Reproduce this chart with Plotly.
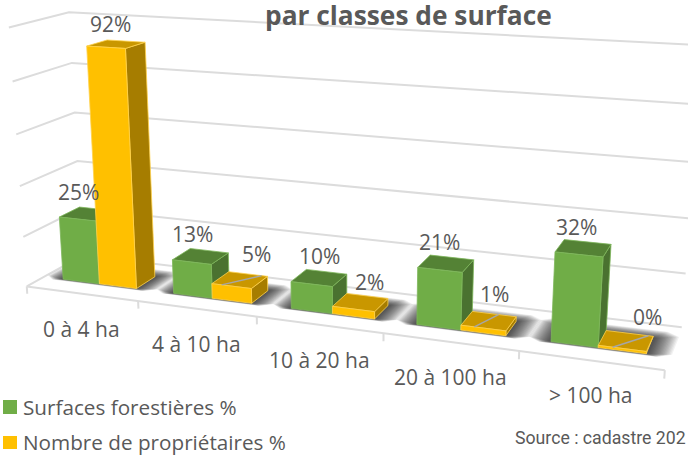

import numpy as np
import plotly.graph_objects as go

categories = ["0 à 4 ha", "4 à 10 ha", "10 à 20 ha", "20 à 100 ha", "> 100 ha"]
surfaces = [25, 13, 10, 21, 32]
proprietaires = [92, 5, 2, 1, 0]
grid_values = [0, 20, 40, 60, 80, 100]
series_names = ["Surfaces forestières %", "Nombre de propriétaires %"]

W, H = 688, 455
TEXT = "#595959"
GRID = "#dcdcdc"

# The chart is an oblique 3D view: this calibrates the view from the frame corners and ticks
VIEW = [(0,0,0,27,285),(1,0,0,138,301),(2,0,0,257,318),(3,0,0,384,335),(4,0,0,519,353),(5,0,0,664,368),
        (0,1,0,83,254),(5,1,0,682,327),(0,0,100,9,27),(0,0,80,13,81),(0,0,60,16,134),(0,0,40,20,186),(0,0,20,23,237),
        (0,1,100,69,13),(0,1,80,72,63),(0,1,60,74,113),(0,1,40,77,162),(5,1,20,686,273),(5,1,100,702,45)]
A = []
for X, Y, Z, u, v in VIEW:
    A.append([X, Y, Z, 1, 0, 0, 0, 0, -u*X, -u*Y, -u*Z, -u])
    A.append([0, 0, 0, 0, X, Y, Z, 1, -v*X, -v*Y, -v*Z, -v])
CAM = np.linalg.svd(np.array(A, float))[2][-1].reshape(3, 4)

def view(points):
    xs, ys = [], []
    for p in points:
        h = CAM @ np.array([p[0], p[1], p[2], 1.0])
        xs.append(h[0]/h[2]); ys.append(h[1]/h[2])
    return xs, ys

fig = go.Figure()

def line(points, color=GRID, width=2):
    x, y = view(points)
    fig.add_trace(go.Scatter(x=x, y=y, mode="lines", line=dict(color=color, width=width), hoverinfo="skip", showlegend=False))

def face(points, color, edge=None):
    x, y = view(points + points[:1])
    fig.add_trace(go.Scatter(x=x, y=y, mode="lines", fill="toself", fillcolor=color,
                             line=dict(color=edge or color, width=0.8 if edge else 0), hoverinfo="skip", showlegend=False))

for g in grid_values:
    line([(0, 0, g), (0, 1, g), (5, 1, g)])
line([(0, 0, 0), (5, 0, 0)])
for n in range(len(categories) + 1):
    line([(n, 0, 0), (n, 0, -3)])

GAP, BW, Y0, Y1 = 0.165, 0.335, 0.32, 0.68

def bar(x0, x1, top, front, roof, side, edge):
    b = -0.4
    face([(x1, Y0, b), (x1, Y1, b), (x1, Y1, top), (x1, Y0, top)], side, edge)
    face([(x0, Y0, top), (x1, Y0, top), (x1, Y1, top), (x0, Y1, top)], roof, edge)
    face([(x0, Y0, b), (x1, Y0, b), (x1, Y0, top), (x0, Y0, top)], front, edge)

def soft(x0, x1, y0, y1, c, alpha):
    z = -0.4
    face([(x0+c, y0, z), (x1-c, y0, z), (x1, y0+c, z), (x1, y1-c, z), (x1-c, y1, z), (x0+c, y1, z), (x0, y1-c, z), (x0, y0+c, z)],
         f"rgba(0,0,0,{alpha})")

for n in range(len(categories)):
    x0, x1 = n + GAP, n + GAP + 2*BW
    for s in np.linspace(1, 0.1, 18):
        dx, dy = 0.17*s, 0.2*s
        soft(x0-dx, x1+dx, Y0-dy*0.2, Y1+dy, 0.09*s, 0.055)
    bar(n+GAP, n+GAP+BW, surfaces[n], "#70AD47", "#548235", "#4A7230", "#7DB65A")
    bar(n+GAP+BW, n+GAP+2*BW, proprietaires[n] + 0.4, "#FFC000", "#C99700", "#A67D00", "#FFD24D")

leaders = {1: (0.25, 0.85), 3: (0.3, 0.6), 4: (0.3, 0.9)}
for n, (a, b) in leaders.items():
    z = proprietaires[n] + 0.4
    line([(n+GAP+BW+a*BW, Y0, z), (n+GAP+BW+b*BW, Y1, z)], color="#A6A6A6", width=1.5)

ann = []
def label(point, text, dx, dy, size=21):
    x, y = view([point])
    ann.append(dict(x=x[0] + dx, y=y[0] + dy, xref="x", yref="y", text=text, showarrow=False,
                    font=dict(family="Open Sans", size=size, color=TEXT)))

green_off = [(-9, -22), (-8, -22), (0, -22), (-6, -22), (-7, -21)]
yellow_off = [(-6, -21), (17, -27), (9, -21), (6, -28), (22, -25)]
for n in range(len(categories)):
    label((n+GAP+BW/2, 0.5, surfaces[n]), f"{surfaces[n]}%", *green_off[n])
    label((n+GAP+1.5*BW, 0.5, proprietaires[n]), f"{proprietaires[n]}%", *yellow_off[n])
    label((n+0.5, 0, 0), categories[n], 0, 35)

def text(x, y, s, size, anchor="left", bold=False, family="Open Sans"):
    ann.append(dict(x=x, y=y, xref="x", yref="y", text=f"<b>{s}</b>" if bold else s, showarrow=False, xanchor=anchor,
                    font=dict(family=family, size=size, color=TEXT)))

text(408, 15, "par classes de surface", 26.3, "center", True)
text(21, 407, series_names[0], 20.7)
text(21, 442, series_names[1], 20.7)
text(513, 438, "Source : cadastre 202", 17.7, family="Roboto")

shapes = [dict(type="rect", x0=3, x1=17, y0=400, y1=414, xref="x", yref="y", fillcolor="#70AD47", line_width=0),
          dict(type="rect", x0=3, x1=17, y0=436, y1=449, xref="x", yref="y", fillcolor="#FFC000", line_width=0)]

fig.update_layout(width=W, height=H, margin=dict(l=0, r=0, t=0, b=0), paper_bgcolor="white", plot_bgcolor="white",
                  xaxis=dict(range=[0, W], visible=False, fixedrange=True),
                  yaxis=dict(range=[H, 0], visible=False, fixedrange=True),
                  annotations=ann, shapes=shapes, showlegend=False)
fig.write_html("out.html", config=dict(displayModeBar=False),
               post_script="document.body.style.margin='0';document.body.style.overflow='hidden';")
